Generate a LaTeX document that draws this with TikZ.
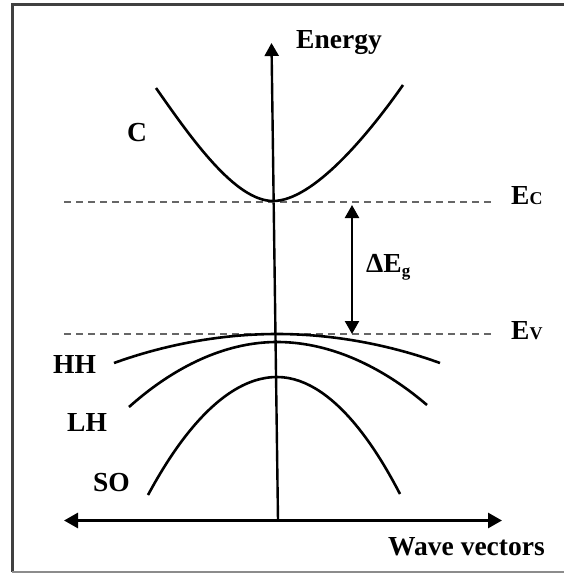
\documentclass[tikz,border=0pt]{standalone}
\usepackage{fontspec}
\setmainfont{Liberation Serif}
\usetikzlibrary{arrows.meta}
\begin{document}
\begin{tikzpicture}[x=1pt,y=-1pt,
  lbl/.style={font=\fontsize{27.5}{27.5}\selectfont\bfseries, inner sep=0pt, anchor=base west},
  band/.style={line width=2.6pt, black},
  axis/.style={line width=2.4pt, black},
  tip/.style={-{Triangle[length=13pt,width=14pt]}},
  level/.style={line width=2pt, black!60, dash pattern=on 7pt off 5pt},
  frame/.style={line width=3pt, black!75}]
\useasboundingbox (0,0) rectangle (563,575);
% frame
\coordinate (fTL) at (12,4.5);
\coordinate (fTR) at (566,4.5);
\coordinate (fBL) at (12,572);
\coordinate (fBR) at (566,572);
\draw[frame] (fTR) -- (fTL) -- (fBL);
\draw[line width=2pt, black!45] (fBL) -- (fBR);
% axes
\coordinate (ybot) at (278,520.5);
\coordinate (ytop) at (271.5,43);
\coordinate (xl) at (64,520.5);
\coordinate (xr) at (502,520.5);
\draw[axis, tip] (ybot) -- (ytop);
\draw[line width=2.8pt, {Triangle[length=14pt,width=15pt]}-{Triangle[length=14pt,width=15pt]}] (xl) -- (xr);
% levels
\coordinate (ecL) at (64,201.5);
\coordinate (ecR) at (494,201.5);
\coordinate (evL) at (64,333.5);
\coordinate (evR) at (494,333.5);
\draw[level] (ecL) -- (ecR);
\draw[level] (evL) -- (evR);
% gap arrow
\coordinate (gT) at (352,205);
\coordinate (gB) at (352,334);
\draw[line width=2.4pt, {Triangle[length=13pt,width=14pt]}-{Triangle[length=13pt,width=14pt]}] (gB) -- (gT);
% conduction band
\coordinate (cL) at (156,88);
\coordinate (cV) at (273,201);
\coordinate (cR) at (403,85);
\draw[band] (cL) .. controls (191,138) and (235,201) .. (cV)
            .. controls (313,201) and (368,135) .. (cR);
% valence bands
\coordinate (hhL) at (114,363);
\coordinate (hhV) at (277,334);
\coordinate (hhR) at (440,363);
\draw[band] (hhL) parabola bend (hhV) (hhR);
\coordinate (lhL) at (129,407);
\coordinate (lhV) at (277,342);
\coordinate (lhR) at (427,405);
\draw[band] (lhL) parabola bend (lhV) (lhR);
\coordinate (soL) at (148,495);
\coordinate (soV) at (277,377);
\coordinate (soR) at (400,494);
\draw[band] (soL) parabola bend (soV) (soR);
% labels
\node[lbl] (energy) at (296,49) {Energy};
\node[lbl] (wave) at (388,555) {Wave vectors};
\node[lbl] (cband) at (127,141) {C};
\node[lbl] (hh) at (53,373) {HH};
\node[lbl] (lh) at (67,431) {LH};
\node[lbl] (so) at (93,491) {SO};
\node[lbl] (ec) at (511,204) {E\fontsize{18}{18}\selectfont C};
\node[lbl] (ev) at (511,339) {E\fontsize{18}{18}\selectfont V};
\node[lbl] (eg) at (366,272) {ΔE\raisebox{-4pt}{\fontsize{17}{17}\selectfont g}};
\end{tikzpicture}
\end{document}
